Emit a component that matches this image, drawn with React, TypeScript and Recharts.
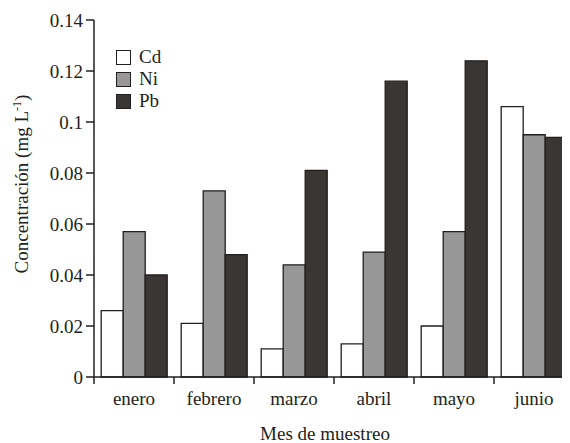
import { BarChart, Bar, XAxis, YAxis } from 'recharts';

const months = ['enero', 'febrero', 'marzo', 'abril', 'mayo', 'junio'];
const cd = [0.026, 0.021, 0.011, 0.013, 0.02, 0.106];
const ni = [0.057, 0.073, 0.044, 0.049, 0.057, 0.095];
const pb = [0.04, 0.048, 0.081, 0.116, 0.124, 0.094];
const yTicks = [0, 0.02, 0.04, 0.06, 0.08, 0.1, 0.12, 0.14];

const series = [
  { key: 'Cd', fill: '#ffffff' },
  { key: 'Ni', fill: '#979797' },
  { key: 'Pb', fill: '#3a3633' },
];

const data = months.map((m, i) => ({ month: m, Cd: cd[i], Ni: ni[i], Pb: pb[i] }));

const W = 570;
const H = 443;
const Y_AXIS_W = 94;
const MARGIN_R = -4;
const INK = '#231f20';
const FONT = '"Liberation Serif", "Times New Roman", serif';
const band = (W - Y_AXIS_W - MARGIN_R) / months.length;

const MonthTick = (props: any) => {
  const { x, y, payload } = props;
  return (
    <g>
      <line x1={x - band / 2} y1={y} x2={x - band / 2} y2={y + 7} stroke={INK} strokeWidth={1.5} />
      <text x={x} y={y + 28} textAnchor="middle" fill={INK} fontSize={19} fontFamily={FONT}>
        {payload.value}
      </text>
    </g>
  );
};

const YLabel = () => (
  <text
    x={28}
    y={184}
    transform="rotate(-90 28 184)"
    textAnchor="middle"
    fill={INK}
    fontSize={19}
    fontFamily={FONT}
  >
    Concentración (mg L
    <tspan fontSize={12} dy={-7}>-1</tspan>
    <tspan dy={7}>)</tspan>
  </text>
);

const XLabel = () => (
  <text x={325} y={440} textAnchor="middle" fill={INK} fontSize={19} fontFamily={FONT}>
    Mes de muestreo
  </text>
);

const LegendBox = () => (
  <div
    style={{
      position: 'absolute',
      left: 116,
      top: 46,
      fontFamily: FONT,
      fontSize: 19,
      lineHeight: '22px',
      color: INK,
    }}
  >
    {series.map((s) => (
      <div key={s.key} style={{ display: 'flex', alignItems: 'center', height: 22 }}>
        <span
          style={{
            display: 'inline-block',
            width: 13,
            height: 13,
            background: s.fill,
            border: `1.5px solid ${INK}`,
            marginRight: 8,
          }}
        />
        <span>{s.key}</span>
      </div>
    ))}
  </div>
);

export default function App() {
  return (
    <div
      style={{
        position: 'relative',
        marginLeft: -8,
        marginTop: -8,
        width: W,
        height: H,
        background: '#fff',
      }}
    >
      <BarChart
        width={W}
        height={H}
        data={data}
        margin={{ top: 20, right: MARGIN_R, bottom: 0, left: 0 }}
        barCategoryGap="9%"
        barGap={0}
      >
        <XAxis
          dataKey="month"
          height={66}
          tickLine={false}
          tickSize={0}
          tickMargin={0}
          axisLine={{ stroke: INK, strokeWidth: 1.5 }}
          tick={<MonthTick />}
          interval={0}
          label={<XLabel />}
        />
        <YAxis
          width={Y_AXIS_W}
          domain={[0, 0.14]}
          ticks={yTicks}
          interval={0}
          tickSize={8}
          tickMargin={3}
          tickFormatter={(v: number) => String(v)}
          axisLine={{ stroke: INK, strokeWidth: 1.5 }}
          tickLine={{ stroke: INK, strokeWidth: 1.5 }}
          tick={{ fill: INK, fontSize: 19, fontFamily: FONT }}
          label={<YLabel />}
        />
        {series.map((s) => (
          <Bar
            key={s.key}
            dataKey={s.key}
            fill={s.fill}
            stroke={INK}
            strokeWidth={1.3}
            isAnimationActive={false}
          />
        ))}
      </BarChart>
      <LegendBox />
    </div>
  );
}
